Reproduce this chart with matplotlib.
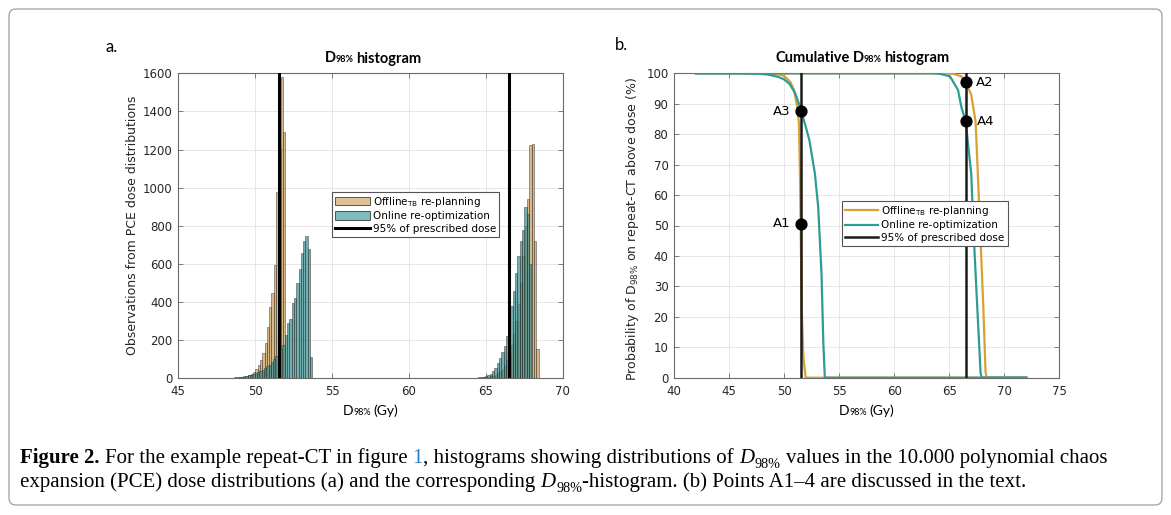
import numpy as np
import matplotlib
matplotlib.use("Agg")
import matplotlib.pyplot as plt
from matplotlib.patches import Patch, FancyBboxPatch
from matplotlib.lines import Line2D
from matplotlib.transforms import IdentityTransform

# ---------------- data ----------------
bin_width = 0.15
# Offline_TB re-planning, low-dose target (bins starting at offline_low_start)
offline_low_start = 48.06
offline_low_counts = [1, 1, 2, 2, 3, 4, 5, 6, 9, 12, 17, 24, 34, 48, 68, 96, 131, 184,
                      271, 376, 446, 594, 975, 1210, 1580, 1290]
# Online re-optimization, low-dose target
online_low_start = 46.22
online_low_counts = [1, 1, 1, 1, 1, 1, 1, 1, 1, 1, 2, 2, 2, 3, 3, 4, 5, 6, 7, 8, 10, 12,
                     15, 18, 22, 27, 32, 38, 45, 53, 62, 72, 85, 100, 118, 135, 155, 175,
                     225, 289, 310, 394, 420, 500, 575, 657, 719, 749, 680, 114]
# Offline_TB re-planning, high-dose target
offline_high_start = 63.78
offline_high_counts = [1, 1, 1, 2, 2, 3, 4, 5, 6, 8, 10, 14, 19, 26, 36, 50, 70, 95, 130,
                       175, 230, 300, 390, 500, 640, 800, 940, 1225, 1230, 720, 154]
# Online re-optimization, high-dose target
online_high_start = 63.15
online_high_counts = [1, 1, 1, 1, 2, 2, 3, 3, 4, 5, 7, 9, 12, 17, 25, 38, 55, 78, 105,
                      140, 170, 220, 290, 380, 460, 550, 640, 720, 780, 900, 860, 600]

presc_95 = [51.54, 66.5]

# cumulative curves (probability of D98% above dose, %)
cum_off_low_x = [42, 48, 49, 49.8, 50.2, 50.6, 50.9, 51.2, 51.35, 51.44, 51.5, 51.6, 51.75, 51.96, 72]
cum_off_low_y = [100, 100, 99.8, 99.5, 98.5, 97, 94.5, 89, 83.5, 67, 51, 23, 7, 0, 0]
cum_on_low_x = [42, 46, 47.5, 48.5, 49.5, 50, 50.5, 51, 51.5, 52, 52.3, 52.8, 53.1, 53.4, 53.56, 53.7, 72]
cum_on_low_y = [100, 100, 99.9, 99.6, 98.8, 98, 96.5, 93.5, 88.5, 82, 78, 67, 56, 34, 12, 0, 0]
cum_off_high_x = [42, 64.5, 65.4, 66.1, 66.5, 67.0, 67.4, 67.6, 67.85, 68.1, 68.3, 68.4, 72]
cum_off_high_y = [100, 100, 99.8, 99, 97, 93, 84, 67, 45, 23, 2, 0, 0]
cum_on_high_x = [42, 63.5, 64.2, 65.07, 65.8, 66.1, 66.5, 67.0, 67.25, 67.55, 67.85, 67.95, 72]
cum_on_high_y = [100, 100, 99.8, 99, 94.5, 89, 84, 67, 45, 23, 1.5, 0, 0]

point_labels = ["A1", "A2", "A3", "A4"]
point_x = [51.52, 66.52, 51.56, 66.56]
point_y = [50.5, 97, 87.5, 84.3]
point_side = ["left", "right", "left", "right"]

# ---------------- style ----------------
W, H = 1171, 515
TAN = (0.80, 0.62, 0.36)
TEAL = (0.24, 0.57, 0.57)
TAN_LEG = (0.84, 0.67, 0.42)
TEAL_LEG = (0.30, 0.63, 0.63)
ORANGE = "#d9a032"
TEAL_LINE = "#2e9c96"
TXT = "#262626"
SPINE = "#6a6a6a"

plt.rcParams["font.family"] = ["DejaVu Sans"]
fig = plt.figure(figsize=(W / 100, H / 100), dpi=100)
fig.patch.set_facecolor("white")

frame = FancyBboxPatch((9, 10), 1153, 496, boxstyle="round,pad=0,rounding_size=7",
                       transform=IdentityTransform(), facecolor="none",
                       edgecolor="#a8a8a8", linewidth=1.0)
fig.add_artist(frame)

axL = fig.add_axes([178.3 / W, 1 - 378.3 / H, 384.4 / W, 305.0 / H])
axR = fig.add_axes([674.0 / W, 1 - 377.7 / H, 385.3 / W, 304.4 / H])


def style_axes(ax):
    ax.grid(True, color="#e3e3e3", linewidth=0.6)
    ax.set_axisbelow(True)
    for s in ax.spines.values():
        s.set_color(SPINE)
        s.set_linewidth(0.8)
    ax.tick_params(direction="in", length=3.5, width=0.6, colors=SPINE,
                   labelcolor=TXT, labelsize=8.5, top=True, right=True)
    ax.tick_params(axis="x", pad=5)
    ax.tick_params(axis="y", pad=4)


# ---- left: histograms ----
style_axes(axL)
for start, counts, col in [(offline_low_start, offline_low_counts, TAN),
                           (offline_high_start, offline_high_counts, TAN),
                           (online_low_start, online_low_counts, TEAL),
                           (online_high_start, online_high_counts, TEAL)]:
    lefts = start + bin_width * np.arange(len(counts))
    axL.bar(lefts, counts, width=bin_width, align="edge", color=col, alpha=0.72,
            edgecolor=(0.1, 0.1, 0.1, 0.8), linewidth=0.4, zorder=2)
for xv in presc_95:
    axL.axvline(xv, color="black", linewidth=2.2, zorder=4)
axL.set_xlim(45, 70)
axL.set_ylim(0, 1600)
axL.set_xticks([45, 50, 55, 60, 65, 70])
axL.set_yticks(range(0, 1601, 200))
axL.text(-0.118, 0.5, "Observations from PCE dose distributions", transform=axL.transAxes,
         rotation=90, ha="center", va="center", fontsize=9, color=TXT)
hL = [Patch(facecolor=TAN_LEG, alpha=0.72, edgecolor="black", linewidth=0.6),
      Patch(facecolor=TEAL_LEG, alpha=0.72, edgecolor="black", linewidth=0.6),
      Line2D([], [], color="black", linewidth=2.2)]
legL = axL.legend(hL, [r"Offline$_{\mathrm{TB}}$ re-planning", "Online re-optimization",
                       "95% of prescribed dose"],
                  loc="upper left", bbox_to_anchor=(0.40, 0.612), fontsize=7.5,
                  frameon=True, fancybox=False, edgecolor="#555555", framealpha=1,
                  handlelength=3.3, handleheight=0.9, labelspacing=0.25, borderpad=0.3,
                  handletextpad=0.3, borderaxespad=0)
legL.get_frame().set_linewidth(0.8)

# ---- right: cumulative ----
style_axes(axR)
axR.plot(cum_off_low_x, cum_off_low_y, color=ORANGE, linewidth=1.6, zorder=3)
axR.plot(cum_off_high_x, cum_off_high_y, color=ORANGE, linewidth=1.6, zorder=3)
axR.plot(cum_on_low_x, cum_on_low_y, color=TEAL_LINE, linewidth=1.6, zorder=3)
axR.plot(cum_on_high_x, cum_on_high_y, color=TEAL_LINE, linewidth=1.6, zorder=3)
for xv in presc_95:
    axR.axvline(xv, color="#1a1a1a", linewidth=1.8, zorder=4)
axR.plot(point_x, point_y, "o", color="black", markersize=7.8, zorder=5, clip_on=False)
for lab, px, py, side in zip(point_labels, point_x, point_y, point_side):
    off = -7.5 if side == "left" else 7.5
    axR.annotate(lab, (px, py), xytext=(off, 0), textcoords="offset points",
                 ha="right" if side == "left" else "left", va="center",
                 fontsize=9.5, color="black")
axR.set_xlim(40, 75)
axR.set_ylim(0, 100)
axR.set_xticks(range(40, 76, 5))
axR.set_yticks(range(0, 101, 10))
axR.text(-0.109, 0.49, r"Probability of D$_{98\%}$ on repeat-CT above dose (%)",
         transform=axR.transAxes, rotation=90, ha="center", va="center",
         fontsize=9, color=TXT)
hR = [Line2D([], [], color=ORANGE, linewidth=1.6),
      Line2D([], [], color=TEAL_LINE, linewidth=1.6),
      Line2D([], [], color="#1a1a1a", linewidth=1.8)]
legR = axR.legend(hR, [r"Offline$_{\mathrm{TB}}$ re-planning", "Online re-optimization",
                       "95% of prescribed dose"],
                  loc="upper left", bbox_to_anchor=(0.435, 0.582), fontsize=7.5,
                  frameon=True, fancybox=False, edgecolor="#555555", framealpha=1,
                  handlelength=3.2, labelspacing=0.25, borderpad=0.3,
                  handletextpad=0.3, borderaxespad=0)
legR.get_frame().set_linewidth(0.8)

# ---------------- chained text helper ----------------
renderer = fig.canvas.get_renderer()


def chain(pieces, x, y, ha="left"):
    """pieces: (text, props, gap_px, dy_px); baseline at pixel y (from top)."""
    arts = []
    cur = 0.0
    for s, props, gap, dy in pieces:
        t = fig.text(0, 0, s, transform=IdentityTransform(), va="baseline", ha="left", **props)
        w = t.get_window_extent(renderer).width
        arts.append((t, cur, dy))
        cur += w + gap
    total = cur - pieces[-1][2]
    x0 = x - total / 2 if ha == "center" else x
    for t, off, dy in arts:
        t.set_position((x0 + off, H - y - dy))
    return arts, total


TF = ["Lato", "DejaVu Sans"]
tb = dict(family=TF, weight="bold", fontsize=10.5, color="black")
ts = dict(family=TF, weight="bold", fontsize=6.5, color="black")
chain([("D", tb, 0, 0), ("98%", ts, 2.5, 0), ("histogram", tb, 0, 0)], 373, 62.5, "center")
chain([("Cumulative", tb, 3, 0), ("D", tb, 0, 0), ("98%", ts, 2.5, 0), ("histogram", tb, 0, 0)],
      862, 62, "center")
xr = dict(family=TF, fontsize=10, color="black")
xs = dict(family=TF, fontsize=6.5, color="black")
for cx in (370.5, 866.5):
    chain([("D", xr, 0, 0), ("98%", xs, 2.5, 0), ("(Gy)", xr, 0, 0)], cx, 415, "center")

fig.text(106 / W, 1 - 52 / H, "a.", fontsize=12, family=TF, color="black")
fig.text(615 / W, 1 - 50 / H, "b.", fontsize=12, family=TF, color="black")

# ---------------- caption ----------------
CF = ["Liberation Serif", "DejaVu Serif"]


def caption_pieces(fs):
    sp = 0.25 * fs * 100 / 72
    r = dict(family=CF, fontsize=fs, color="black")
    b = dict(family=CF, fontsize=fs, color="black", weight="bold")
    i = dict(family=CF, fontsize=fs, color="black", style="italic")
    s = dict(family=CF, fontsize=fs * 0.68, color="black")
    bl = dict(family=CF, fontsize=fs, color="#2a7fc1")
    l1 = [("Figure 2.", b, sp, 0), ("For the example repeat-CT in figure", r, sp, 0),
          ("1", bl, 0, 0), (", histograms showing distributions of", r, sp, 0),
          ("D", i, 0.5, 0), ("98%", s, sp, 0.22 * fs * 100 / 72),
          ("values in the 10.000 polynomial chaos", r, 0, 0)]
    l2 = [("expansion (PCE) dose distributions (a) and the corresponding", r, sp, 0),
          ("D", i, 0.5, 0), ("98%", s, 0, 0.22 * fs * 100 / 72),
          ("-histogram. (b) Points A1\u20134 are discussed in the text.", r, 0, 0)]
    return l1, l2


fs0 = 13
l1, l2 = caption_pieces(fs0)
arts, tot = chain(l1, 20, 463)
for t, _, _ in arts:
    t.remove()
fs = fs0 * 1078 / tot
l1, l2 = caption_pieces(fs)
chain(l1, 20, 463)
chain(l2, 20, 487)

fig.savefig("out.png", dpi=100, facecolor="white")
